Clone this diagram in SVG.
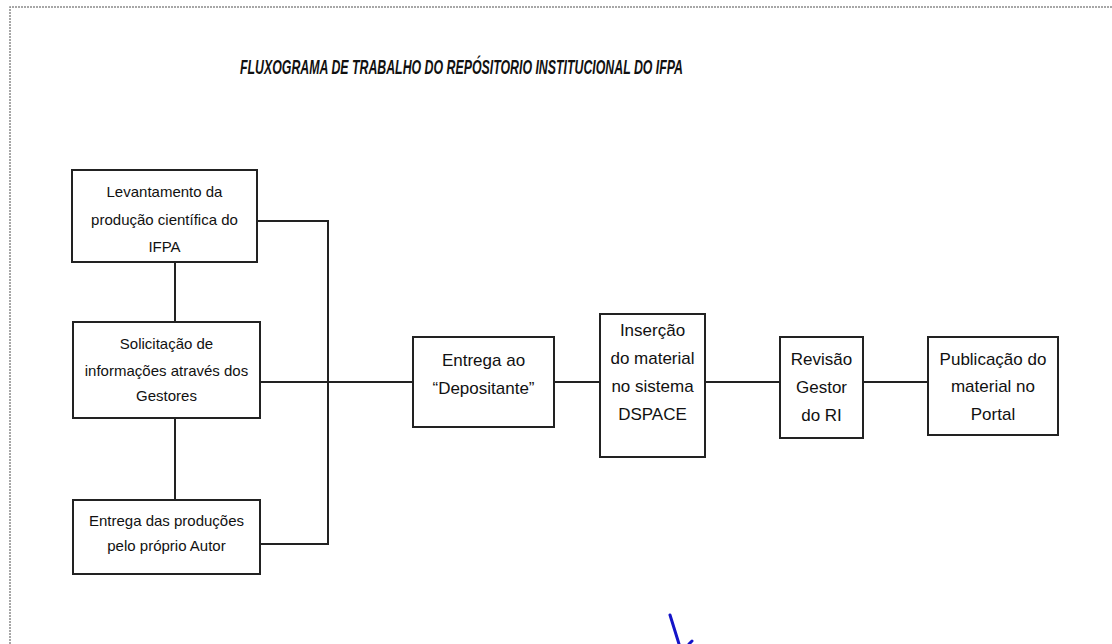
<svg xmlns="http://www.w3.org/2000/svg" width="1112" height="644" viewBox="0 0 1112 644">
<style>
.frame{fill:none;stroke:#8a8a8a;stroke-width:1.5;stroke-dasharray:2 1}
.box{fill:#fff;stroke:#222;stroke-width:2}
.ln{fill:none;stroke:#222;stroke-width:2}
.t1{font-family:"Liberation Sans",Arial,sans-serif;font-size:15px;fill:#111;text-anchor:middle}
.t2{font-family:"Liberation Sans",Arial,sans-serif;font-size:17px;fill:#111;text-anchor:middle}
.title{font-family:"Liberation Sans",Arial,sans-serif;font-size:21px;font-weight:bold;font-style:italic;fill:#111;text-anchor:middle}
</style>
<rect width="1112" height="644" fill="#fff"/>
<path class="frame" d="M10,644 V7 H1112"/>
<text class="title" x="461.5" y="74" textLength="443" lengthAdjust="spacingAndGlyphs">FLUXOGRAMA DE TRABALHO DO REPÓSITORIO INSTITUCIONAL DO IFPA</text>
<g id="connectors">
<path class="ln" d="M175,262 V322"/>
<path class="ln" d="M175,418 V500"/>
<path class="ln" d="M257,221 H328 V544 H260"/>
<path class="ln" d="M260,382 H413"/>
<path class="ln" d="M554,382 H600"/>
<path class="ln" d="M705,382 H780"/>
<path class="ln" d="M863,382 H928"/>
</g>
<g id="n1">
<rect class="box" x="72" y="170" width="185" height="92"/>
<text class="t1" x="164.5" y="197">Levantamento da</text>
<text class="t1" x="164.5" y="225">produção científica do</text>
<text class="t1" x="164.5" y="252">IFPA</text>
</g>
<g id="n2">
<rect class="box" x="73" y="322" width="187" height="96"/>
<text class="t1" x="166.5" y="349">Solicitação de</text>
<text class="t1" x="166.5" y="376">informações através dos</text>
<text class="t1" x="166.5" y="401">Gestores</text>
</g>
<g id="n3">
<rect class="box" x="73" y="500" width="187" height="74"/>
<text class="t1" x="166.5" y="526">Entrega das produções</text>
<text class="t1" x="166.5" y="551">pelo próprio Autor</text>
</g>
<g id="n4">
<rect class="box" x="413" y="337" width="141" height="90"/>
<text class="t2" x="483.5" y="366">Entrega ao</text>
<text class="t2" x="483.5" y="394">“Depositante”</text>
</g>
<g id="n5">
<rect class="box" x="600" y="314" width="105" height="143"/>
<text class="t2" x="652.5" y="336">Inserção</text>
<text class="t2" x="652.5" y="364">do material</text>
<text class="t2" x="652.5" y="392">no sistema</text>
<text class="t2" x="652.5" y="420">DSPACE</text>
</g>
<g id="n6">
<rect class="box" x="780" y="337" width="83" height="101"/>
<text class="t2" x="821.5" y="365">Revisão</text>
<text class="t2" x="821.5" y="393">Gestor</text>
<text class="t2" x="821.5" y="421">do RI</text>
</g>
<g id="n7">
<rect class="box" x="928" y="337" width="130" height="98"/>
<text class="t2" x="993" y="365">Publicação do</text>
<text class="t2" x="993" y="392">material no</text>
<text class="t2" x="993" y="420">Portal</text>
</g>
<path d="M670,615 L679,644 M689,644 L692,641" fill="none" stroke="#1414c8" stroke-width="3" stroke-linecap="round"/>
</svg>
